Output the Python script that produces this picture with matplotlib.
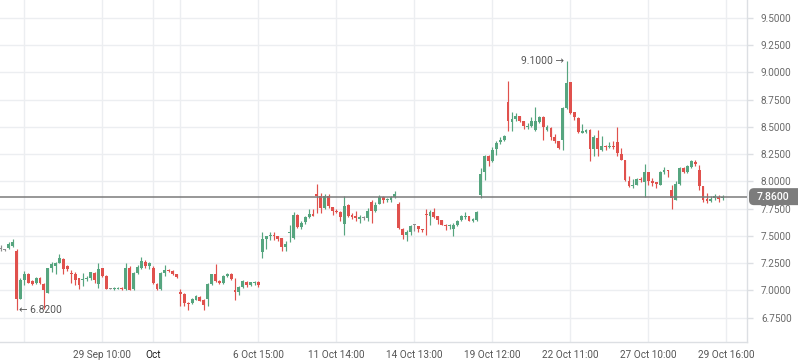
import matplotlib
matplotlib.use("Agg")
import matplotlib.pyplot as plt
from matplotlib.patches import FancyBboxPatch
from matplotlib.transforms import IdentityTransform, blended_transform_factory

# ---------------- data (hourly candles, compressed time axis) ----------------
opens = [7.38, 7.37, 7.39, 7.41, 7.36, 6.92, 7.10, 7.15, 7.09, 7.07,
         7.11, 7.06, 6.98, 7.21, 7.22, 7.25, 7.29, 7.22, 7.155, 7.15,
         7.11, 7.10, 7.105, 7.11, 7.16, 7.06, 7.21, 7.13, 7.016, 7.01,
         7.016, 7.02, 7.01, 7.21, 7.01, 7.16, 7.21, 7.26, 7.22, 7.21,
         7.06, 7.01, 7.16, 7.19, 7.18, 7.15, 6.99, 6.97, 6.885, 6.885,
         6.915, 6.94, 6.915, 6.92, 7.06, 7.15, 7.09, 7.07, 7.13, 7.155,
         7.00, 6.99, 7.03, 7.08, 7.05, 7.065, 7.08, 7.35, 7.474, 7.50,
         7.51, 7.50, 7.48, 7.395, 7.53, 7.48, 7.694, 7.581, 7.624, 7.673,
         7.70, 7.884, 7.87, 7.755, 7.87, 7.764, 7.722, 7.72, 7.608, 7.786,
         7.694, 7.685, 7.657, 7.664, 7.664, 7.81, 7.725, 7.792, 7.853, 7.825,
         7.832, 7.853, 7.795, 7.566, 7.505, 7.532, 7.596, 7.593, 7.563, 7.694,
         7.679, 7.722, 7.679, 7.648, 7.596, 7.587, 7.566, 7.596, 7.648, 7.673,
         7.679, 7.639, 7.648, 7.877, 8.082, 8.235, 8.183, 8.296, 8.357, 8.375,
         8.724, 8.544, 8.574, 8.595, 8.55, 8.50, 8.51, 8.473, 8.54, 8.587,
         8.468, 8.489, 8.406, 8.366, 8.382, 8.672, 8.91, 8.632, 8.58, 8.44,
         8.45, 8.474, 8.296, 8.397, 8.284, 8.327, 8.314, 8.327, 8.357, 8.253,
         8.198, 8.006, 7.954, 7.969, 8.018, 7.99, 8.085, 7.999, 7.993, 7.969,
         8.082, 8.10, 7.923, 7.831, 7.978, 8.122, 8.082, 8.128, 8.177, 8.10,
         7.954, 7.838, 7.822, 7.844, 7.856, 7.844]
highs = [7.42, 7.38, 7.44, 7.47, 7.38, 7.11, 7.18, 7.16, 7.10, 7.12,
         7.12, 7.07, 7.21, 7.26, 7.26, 7.33, 7.30, 7.23, 7.19, 7.17,
         7.11, 7.16, 7.13, 7.17, 7.17, 7.25, 7.21, 7.14, 7.02, 7.03,
         7.03, 7.03, 7.25, 7.22, 7.17, 7.23, 7.31, 7.28, 7.26, 7.22,
         7.07, 7.17, 7.23, 7.20, 7.19, 7.155, 7.01, 6.98, 6.89, 6.93,
         6.96, 6.945, 6.92, 7.065, 7.155, 7.24, 7.10, 7.14, 7.16, 7.16,
         7.11, 7.04, 7.10, 7.09, 7.08, 7.09, 7.09, 7.535, 7.50, 7.535,
         7.54, 7.50, 7.48, 7.45, 7.60, 7.72, 7.70, 7.633, 7.68, 7.746,
         7.75, 7.975, 7.89, 7.883, 7.883, 7.765, 7.75, 7.73, 7.868, 7.79,
         7.71, 7.725, 7.694, 7.68, 7.76, 7.83, 7.807, 7.877, 7.868, 7.847,
         7.862, 7.908, 7.807, 7.57, 7.556, 7.602, 7.608, 7.595, 7.565, 7.749,
         7.734, 7.755, 7.685, 7.65, 7.608, 7.605, 7.618, 7.648, 7.688, 7.719,
         7.685, 7.663, 7.725, 8.122, 8.244, 8.24, 8.314, 8.366, 8.406, 8.427,
         8.922, 8.632, 8.626, 8.60, 8.555, 8.534, 8.587, 8.68, 8.595, 8.602,
         8.52, 8.495, 8.43, 8.37, 8.681, 9.10, 8.915, 8.64, 8.59, 8.53,
         8.48, 8.48, 8.427, 8.474, 8.412, 8.33, 8.357, 8.366, 8.498, 8.305,
         8.20, 8.045, 8.021, 8.03, 8.04, 8.162, 8.09, 8.03, 7.995, 8.091,
         8.131, 8.106, 7.969, 8.0, 8.131, 8.13, 8.152, 8.198, 8.192, 8.152,
         7.96, 7.893, 7.868, 7.886, 7.877, 7.874]
lows = [7.36, 7.36, 7.38, 7.40, 6.82, 6.92, 7.05, 7.07, 7.05, 7.06,
        7.06, 6.83, 6.98, 7.17, 7.15, 7.25, 7.15, 7.18, 7.07, 7.05,
        7.01, 7.04, 7.09, 7.10, 7.07, 7.02, 7.12, 7.01, 7.01, 7.00,
        7.01, 7.00, 7.00, 7.00, 7.00, 7.15, 7.20, 7.21, 7.20, 7.06,
        7.00, 7.00, 7.13, 7.17, 7.14, 7.11, 6.86, 6.86, 6.825, 6.88,
        6.91, 6.90, 6.825, 6.86, 7.05, 7.08, 7.06, 7.06, 7.12, 7.10,
        6.915, 6.96, 7.02, 7.03, 7.04, 7.05, 7.03, 7.30, 7.38, 7.465,
        7.465, 7.45, 7.36, 7.36, 7.44, 7.474, 7.572, 7.566, 7.608, 7.664,
        7.68, 7.71, 7.71, 7.75, 7.76, 7.688, 7.71, 7.633, 7.51, 7.67,
        7.654, 7.633, 7.618, 7.645, 7.633, 7.617, 7.72, 7.79, 7.80, 7.807,
        7.807, 7.847, 7.563, 7.474, 7.45, 7.511, 7.541, 7.535, 7.532, 7.505,
        7.596, 7.663, 7.608, 7.596, 7.55, 7.566, 7.495, 7.587, 7.633, 7.654,
        7.633, 7.627, 7.64, 7.847, 8.015, 8.137, 8.18, 8.244, 8.345, 8.37,
        8.464, 8.464, 8.55, 8.54, 8.48, 8.48, 8.498, 8.464, 8.535, 8.382,
        8.458, 8.382, 8.351, 8.296, 8.29, 8.663, 8.62, 8.565, 8.443, 8.44,
        8.44, 8.183, 8.229, 8.229, 8.275, 8.29, 8.31, 8.30, 8.229, 8.195,
        8.0, 7.95, 7.938, 7.963, 7.99, 7.856, 7.969, 7.954, 7.938, 7.965,
        8.07, 8.04, 7.746, 7.825, 7.97, 8.076, 8.076, 8.12, 8.143, 7.917,
        7.807, 7.801, 7.807, 7.831, 7.807, 7.825]
closes = [7.38, 7.37, 7.43, 7.44, 6.92, 7.10, 7.15, 7.07, 7.06, 7.11,
          7.065, 7.00, 7.21, 7.24, 7.25, 7.30, 7.20, 7.20, 7.15, 7.10,
          7.05, 7.105, 7.11, 7.17, 7.10, 7.20, 7.13, 7.01, 7.016, 7.02,
          7.02, 7.01, 7.21, 7.00, 7.16, 7.215, 7.27, 7.22, 7.25, 7.07,
          7.01, 7.16, 7.19, 7.18, 7.15, 7.12, 6.97, 6.885, 6.875, 6.92,
          6.95, 6.906, 6.87, 7.06, 7.15, 7.09, 7.07, 7.13, 7.155, 7.105,
          6.985, 7.03, 7.09, 7.05, 7.075, 7.075, 7.05, 7.474, 7.50, 7.51,
          7.50, 7.474, 7.395, 7.43, 7.535, 7.688, 7.581, 7.618, 7.67, 7.70,
          7.68, 7.87, 7.755, 7.87, 7.77, 7.73, 7.716, 7.67, 7.776, 7.679,
          7.673, 7.66, 7.67, 7.664, 7.73, 7.725, 7.786, 7.856, 7.825, 7.83,
          7.853, 7.883, 7.572, 7.505, 7.532, 7.593, 7.596, 7.566, 7.556, 7.688,
          7.722, 7.673, 7.648, 7.596, 7.59, 7.602, 7.596, 7.639, 7.679, 7.676,
          7.639, 7.657, 7.719, 8.067, 8.235, 8.183, 8.29, 8.351, 8.375, 8.418,
          8.55, 8.574, 8.595, 8.55, 8.504, 8.51, 8.556, 8.55, 8.587, 8.495,
          8.498, 8.406, 8.366, 8.305, 8.672, 8.901, 8.626, 8.587, 8.45, 8.46,
          8.474, 8.296, 8.406, 8.296, 8.327, 8.314, 8.327, 8.314, 8.259, 8.198,
          8.015, 7.954, 7.969, 8.024, 8.012, 8.085, 8.0, 7.984, 7.975, 8.082,
          8.10, 8.091, 7.847, 7.978, 8.122, 8.082, 8.137, 8.183, 8.158, 7.954,
          7.825, 7.816, 7.838, 7.862, 7.838, 7.86]

tick_idx = [6, 26, 39, 46, 66, 86, 106, 126, 146, 166, 186]
tick_lbl = ["", "29 Sep 10:00", "Oct", "", "6 Oct 15:00", "11 Oct 14:00",
            "14 Oct 13:00", "19 Oct 12:00", "22 Oct 11:00", "27 Oct 10:00",
            "29 Oct 16:00"]
y_ticks = [6.75, 7.0, 7.25, 7.5, 7.75, 8.0, 8.25, 8.5, 8.75, 9.0, 9.25, 9.5]
last_price = 7.86
hi_idx, hi_val = 145, 9.10
lo_idx, lo_val = 4, 6.82

# ---------------- style ----------------
GREEN = "#56a57f"
RED = "#e0514d"
GREY = "#8e8e8e"
GRID = "#eceef1"
FONT = ["Roboto", "DejaVu Sans"]
plt.rcParams["font.family"] = FONT

W, H = 798, 363
fig = plt.figure(figsize=(W / 100, H / 100), dpi=100)
ax = fig.add_axes([0, 21 / H, 747 / W, 342 / H])

n = len(opens)
xs = list(range(n))
bw = 0.72
for i in xs:
    o, h, l, c = opens[i], highs[i], lows[i], closes[i]
    if abs(c - o) < 0.0005:
        col = GREY
    elif c > o:
        col = GREEN
    else:
        col = RED
    ax.vlines(i, l, h, color=col, lw=0.85, zorder=3)
    bottom = min(o, c)
    height = max(abs(c - o), 0.009)
    ax.bar(i, height, bottom=bottom, width=bw, color=col, lw=0, zorder=4)

ax.set_xlim(-0.256, 191.28)
ax.set_ylim(6.528, 9.662)

# grid
for yv in y_ticks:
    ax.axhline(yv, color=GRID, lw=1.0, zorder=0)
for xv in tick_idx:
    ax.axvline(xv, color=GRID, lw=1.0, zorder=0)

# last price line
ax.axhline(last_price, color="#7a7a7a", lw=1.1, zorder=5)

# spines
for s in ["top", "left"]:
    ax.spines[s].set_visible(False)
for s in ["bottom", "right"]:
    ax.spines[s].set_color("#dcdfe3")
    ax.spines[s].set_linewidth(1.0)

# ticks
ax.set_xticks(tick_idx)
ax.set_xticklabels(tick_lbl)
ax.tick_params(axis="x", length=0, pad=6, labelsize=7.2, labelcolor="#555555")
for lbl in ax.get_xticklabels():
    if lbl.get_text() == "Oct":
        lbl.set_color("#1e1e1e")
ax.yaxis.tick_right()
ax.set_yticks(y_ticks)
ax.set_yticklabels([f"{v:.4f}" for v in y_ticks])
ax.tick_params(axis="y", length=4, width=1, color="#dcdfe3", pad=6,
               labelsize=7.2, labelcolor="#6a6a6a")

# annotations for extremes
ax.text(lo_idx + 0.55, lo_val, "\u2190 " + f"{lo_val:.4f}", ha="left", va="center",
        fontsize=7.4, color="#555555", zorder=6)
ax.text(hi_idx - 0.6, hi_val, f"{hi_val:.4f}" + " \u2192", ha="right", va="center",
        fontsize=7.4, color="#555555", zorder=6)

# last price label box (pixel coordinates)
fig.canvas.draw()
ypix = ax.transData.transform((0, last_price))[1]
box = FancyBboxPatch((749, ypix - 8.5), 70, 17,
                     boxstyle="round,pad=0,rounding_size=5",
                     transform=IdentityTransform(), fc="#7c7c7c", ec="none",
                     zorder=10, clip_on=False)
fig.patches.append(box)
trans = blended_transform_factory(fig.transFigure, ax.transData)
fig.text(757 / W, last_price, f"{last_price:.4f}", transform=trans, ha="left",
         va="center", fontsize=7.6, color="white", fontweight="medium", zorder=11)

fig.savefig("out.png", dpi=100)
